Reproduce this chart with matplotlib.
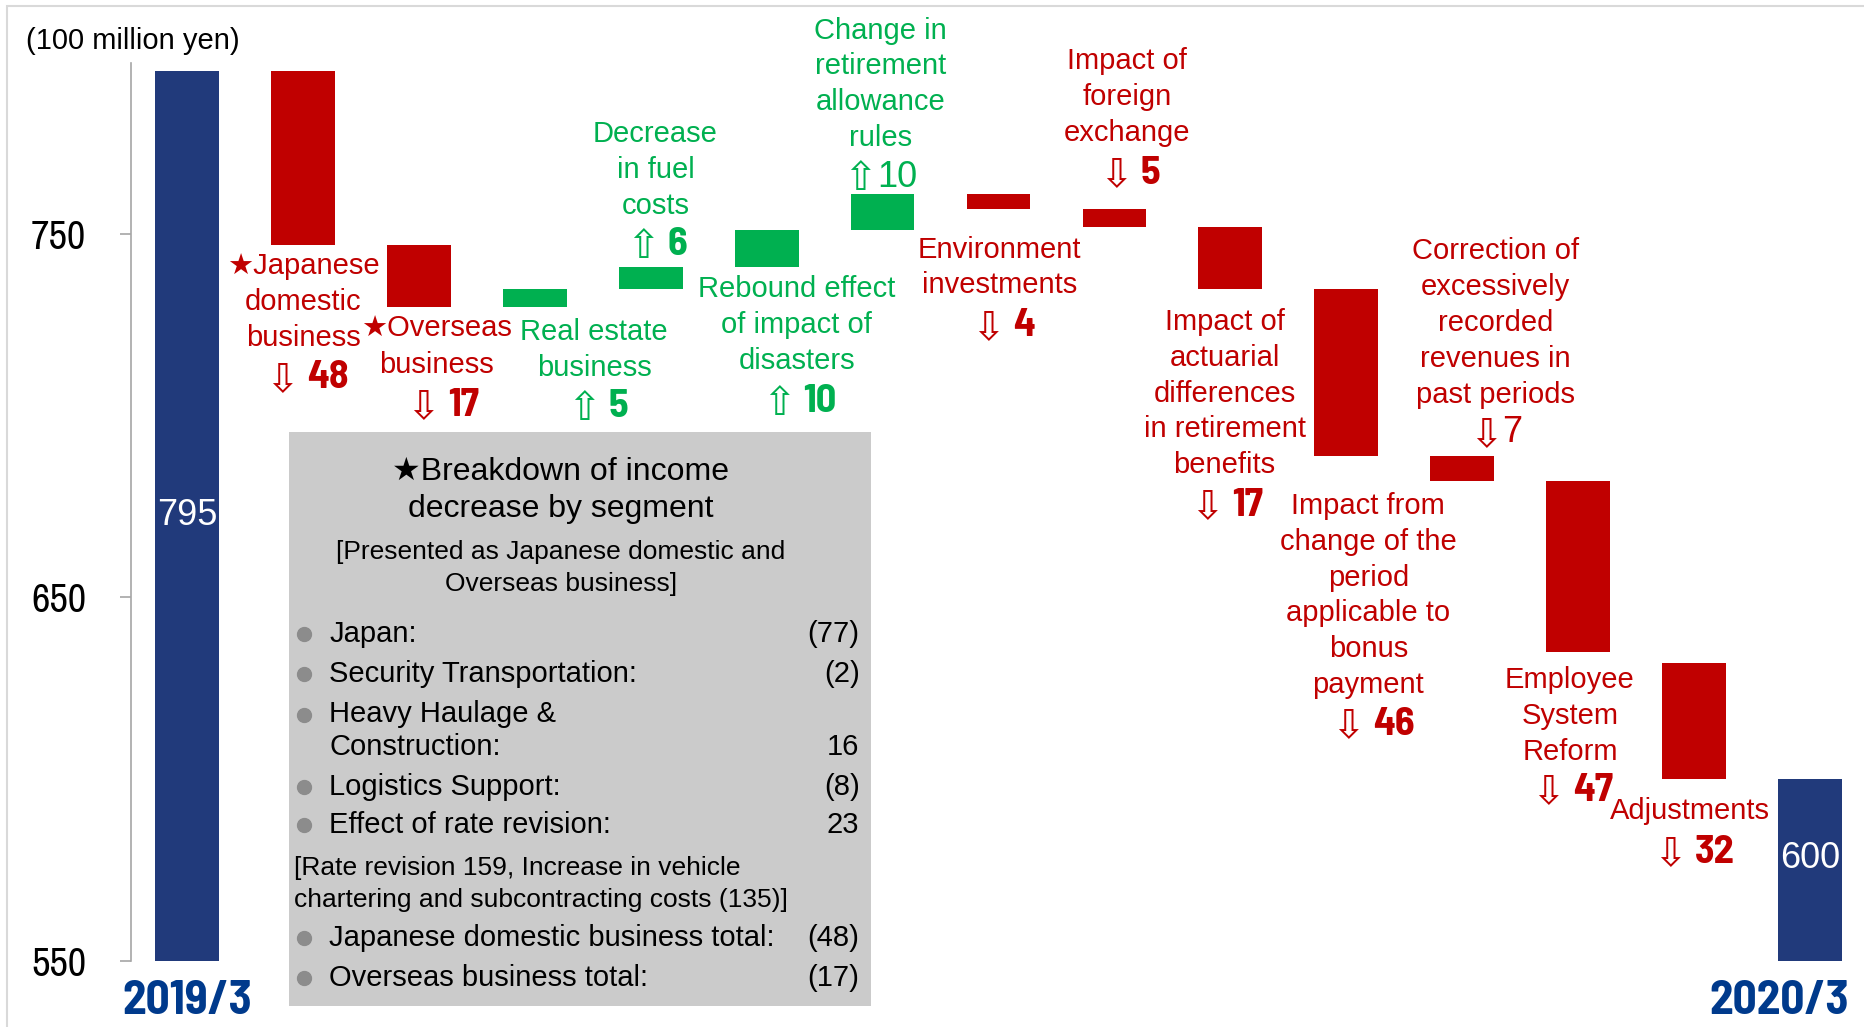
import matplotlib
matplotlib.use('Agg')
import matplotlib.pyplot as plt
from matplotlib import font_manager as fm
from matplotlib.patches import Rectangle
from matplotlib.lines import Line2D
from matplotlib.transforms import ScaledTranslation

# ---------------- data ----------------
start_label = "2019/3"
end_label = "2020/3"
start_value = 795
end_value = 600
items = [
    "★Japanese\ndomestic\nbusiness",
    "★Overseas\nbusiness",
    "Real estate\nbusiness",
    "Decrease\nin fuel\ncosts",
    "Rebound effect\nof impact of\ndisasters",
    "Change in\nretirement\nallowance\nrules",
    "Environment\ninvestments",
    "Impact of\nforeign\nexchange",
    "Impact of\nactuarial\ndifferences\nin retirement\nbenefits",
    "Impact from\nchange of the\nperiod\napplicable to\nbonus\npayment",
    "Correction of\nexcessively\nrecorded\nrevenues in\npast periods",
    "Employee\nSystem\nReform",
    "Adjustments",
]
changes = [-48, -17, 5, 6, 10, 10, -4, -5, -17, -46, -7, -47, -32]
y_ticks = [550, 650, 750]
unit_label = "(100 million yen)"

box_title = ["★Breakdown of income", "decrease by segment"]
box_subtitle = ["[Presented as Japanese domestic and", "Overseas business]"]
segment_labels = ["Japan:", "Security Transportation:", "Heavy Haulage &\nConstruction:",
                  "Logistics Support:", "Effect of rate revision:"]
segment_values = ["(77)", "(2)", "16", "(8)", "23"]
rate_note = ["[Rate revision 159, Increase in vehicle",
             "chartering and subcontracting costs (135)]"]
total_labels = ["Japanese domestic business total:", "Overseas business total:"]
total_values = ["(48)", "(17)"]

# ---------------- style ----------------
NAVY = '#213A7B'
RED = '#C00000'
GREEN = '#00B050'
YEAR = '#003A8C'
BOXC = '#CBCBCB'

SANS = 'Liberation Sans'


def _wnum(w):
    if isinstance(w, str):
        return fm.weight_dict.get(w, 400)
    return int(w)


def _has(name, bold):
    for f in fm.fontManager.ttflist:
        if f.name == name and f.style == 'normal':
            if (not bold) or _wnum(f.weight) >= 600:
                return True
    return False


pref = ['Liberation Sans Narrow', 'Archivo Narrow', 'Barlow Semi Condensed',
        'Barlow Condensed', 'Encode Sans Condensed', 'Asap Condensed', 'Cabin Condensed']
NARROW = next((p for p in pref if _has(p, False)), SANS)
NARROW_B = next((p for p in pref if _has(p, True)), SANS)

W, H = 1864, 1027
fig = plt.figure(figsize=(W / 100, H / 100), dpi=100)
fig.patch.set_facecolor('white')


def fx(px):
    return px / W


def fy(py):
    return 1 - py / H


ax = fig.add_axes([fx(130.8), fy(960.5), fx(1855) - fx(130.8), fy(63) - fy(960.5)])
ax.set_xlim(-0.487, 14.39)
ax.set_ylim(550, 797.1)
bw = 0.55

# waterfall geometry
n = len(changes)
xs_items = list(range(1, n + 1))
bottoms, heights, colors = [], [], []
level = start_value
for k, c in enumerate(changes):
    if k == n - 1:
        # last bridge is anchored on the closing total
        top = end_value - c
        bottoms.append(min(top, end_value))
        heights.append(abs(c))
    else:
        bottoms.append(min(level, level + c))
        heights.append(abs(c))
        level += c
    colors.append(RED if c < 0 else GREEN)

ax.bar([0], [start_value - 550], bottom=550, width=bw, color=NAVY, zorder=2)
ax.bar([n + 1], [end_value - 550], bottom=550, width=bw, color=NAVY, zorder=2)
ax.bar(xs_items, heights, bottom=bottoms, width=bw, color=colors, zorder=2)

# axes styling
for s in ['top', 'right', 'bottom']:
    ax.spines[s].set_visible(False)
ax.spines['left'].set_color('#A6A6A6')
ax.spines['left'].set_linewidth(1.2)
ax.set_xticks([])
ax.set_yticks(y_ticks)
ax.set_yticklabels([str(t) for t in y_ticks])
ax.tick_params(axis='y', length=8, width=1.2, color='#A6A6A6', pad=24, labelsize=29)
for lab in ax.get_yticklabels():
    lab.set_fontfamily(NARROW)

# category labels
lab_pos = [(1.0, 731.3), (2.15, 718.9), (3.51, 718.2), (4.04, 767.7), (5.26, 724.9),
           (5.98, 791.2), (7.01, 740.8), (8.11, 787.7), (8.95, 706.1), (10.19, 650.5),
           (11.29, 725.6), (11.93, 617.4), (12.97, 591.2)]
num_pos = [(1.03, 710.4), (2.2, 702.9), (3.54, 702.5), (4.05, 747.1), (5.28, 703.8),
           (5.98, 765.7), (7.04, 724.8), (8.13, 766.7), (8.97, 675.4), (10.23, 615.1),
           (11.29, 695.3), (11.95, 596.8), (13.0, 579.8)]
num_gap = [8, 8, 7, 7, 8, 0, 8, 8, 8, 8, 0, 8, 8]
num_plain = [False, False, False, False, False, True, False, False, False, False, True,
             False, False]

renderer = fig.canvas.get_renderer()
for k, (txt, c) in enumerate(zip(items, changes)):
    col = RED if c < 0 else GREEN
    x, y = lab_pos[k]
    ax.text(x, y, txt, ha='center', va='center', color=col, fontsize=21,
            family=[SANS, 'DejaVu Sans'], linespacing=1.36, zorder=3, clip_on=False)
    arrow = '⇩' if c < 0 else '⇧'
    nx, ny = num_pos[k]
    ta = ax.text(nx, ny, arrow, ha='left', va='center', color=col, fontsize=29,
                 family='DejaVu Sans', zorder=3, clip_on=False)
    if num_plain[k]:
        tn = ax.text(nx, ny, str(abs(c)), ha='left', va='center', color=col,
                     fontsize=26, family=SANS, zorder=3, clip_on=False)
    else:
        tn = ax.text(nx, ny, str(abs(c)), ha='left', va='center', color=col,
                     fontsize=29, fontweight='bold', family=NARROW_B, zorder=3,
                     clip_on=False)
    wa = ta.get_window_extent(renderer).width
    wn = tn.get_window_extent(renderer).width
    g = num_gap[k]
    total = wa + g + wn
    ta.set_transform(ax.transData + ScaledTranslation((-total / 2) / 100, -2 / 100,
                                                      fig.dpi_scale_trans))
    tn.set_transform(ax.transData + ScaledTranslation((-total / 2 + wa + g) / 100, 0,
                                                      fig.dpi_scale_trans))

# totals inside bars
ax.text(0, 672.4, str(start_value), ha='center', va='center', color='white',
        fontsize=26, family=SANS, zorder=3)
ax.text(n + 1, 578.1, str(end_value), ha='center', va='center', color='white',
        fontsize=26, family=SANS, zorder=3)

# year labels
ax.text(0, 538.8, start_label, ha='center', va='center', color=YEAR,
        fontsize=34, fontweight='bold', family=NARROW_B, clip_on=False)
ax.text(14.335, 538.8, end_label, ha='right', va='center', color=YEAR,
        fontsize=34, fontweight='bold', family=NARROW_B, clip_on=False)

# unit label
fig.text(fx(26), fy(41), unit_label, ha='left', va='center', fontsize=21,
         family=SANS, color='black')

# breakdown box
fig.patches.append(Rectangle((fx(288.9), fy(1005.7)), fx(871.4) - fx(288.9),
                             fy(431.5) - fy(1005.7), transform=fig.transFigure,
                             facecolor=BOXC, edgecolor='none', zorder=5))
tkw = dict(family=[SANS, 'DejaVu Sans'], color='black', zorder=6)
fig.text(fx(561), fy(472), box_title[0], ha='center', va='center', fontsize=23, **tkw)
fig.text(fx(561), fy(508.8), box_title[1], ha='center', va='center', fontsize=23, **tkw)
fig.text(fx(561), fy(551.6), box_subtitle[0], ha='center', va='center', fontsize=19, **tkw)
fig.text(fx(561), fy(583.7), box_subtitle[1], ha='center', va='center', fontsize=19, **tkw)


def bullet(py):
    fig.add_artist(Line2D([fx(304.3)], [fy(py)], marker='o', markersize=10,
                          color='#8C8C8C', transform=fig.transFigure, zorder=6))


row_y = [633.6, 674.0, 714.5, 787.0, 825.0]
for lab, val, py in zip(segment_labels, segment_values, row_y):
    lines = lab.split('\n')
    bullet(py)
    for j, ln in enumerate(lines):
        fig.text(fx(329.3), fy(py + j * 32.1), ln, ha='left', va='center', fontsize=21, **tkw)
    fig.text(fx(859.5), fy(py + (len(lines) - 1) * 32.1), val, ha='right', va='center',
             fontsize=21, **tkw)
fig.text(fx(293.6), fy(867.8), rate_note[0], ha='left', va='center', fontsize=19, **tkw)
fig.text(fx(293.6), fy(900.0), rate_note[1], ha='left', va='center', fontsize=19, **tkw)
for lab, val, py in zip(total_labels, total_values, [938.0, 978.4]):
    bullet(py)
    fig.text(fx(329.3), fy(py), lab, ha='left', va='center', fontsize=21, **tkw)
    fig.text(fx(859.5), fy(py), val, ha='right', va='center', fontsize=21, **tkw)

# outer light frame
fig.patches.append(Rectangle((fx(7), -0.1), 1.2, fy(6) + 0.1, transform=fig.transFigure,
                             fill=False, edgecolor='#D9D9D9', linewidth=1.5, zorder=0))

fig.savefig('out.png', dpi=100, facecolor='white')
